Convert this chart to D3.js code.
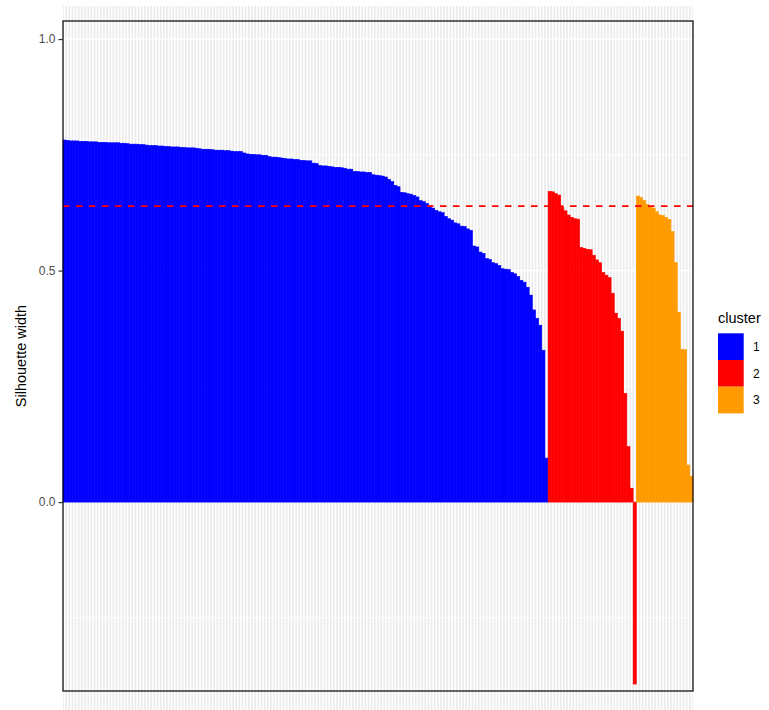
<!DOCTYPE html>
<html>
<head>
<meta charset="utf-8">
<script src="https://cdn.jsdelivr.net/npm/d3@7"></script>
<style>
  body { margin: 0; background: #fff; }
  svg { font-family: "Liberation Sans", Arial, sans-serif; }
</style>
</head>
<body>
<div id="chart"></div>
<script>
// Silhouette widths, sorted within each cluster
const cluster1 = [
  .782, .781, .780, .780, .780, .779, .779, .779, .778, .778,
  .778, .777, .777, .777, .776, .776, .776, .776, .775, .775,
  .774, .773, .773, .773, .772, .772, .771, .770, .770, .770,
  .769, .769, .768, .768, .767, .767, .767, .766, .766, .765,
  .765, .765, .764, .763, .762, .762, .762, .761, .760, .760,
  .760, .759, .759, .758, .757, .757, .757, .754, .752, .751,
  .751, .750, .750, .749, .749, .746, .745, .745, .744, .743,
  .742, .741, .741, .740, .740, .738, .738, .737, .737, .732,
  .731, .727, .726, .726, .725, .724, .723, .723, .722, .721,
  .719, .719, .714, .714, .713, .713, .712, .712, .707, .706,
  .705, .704, .702, .697, .692, .684, .681, .669, .668, .666,
  .665, .662, .659, .651, .649, .645, .640, .635, .630, .627,
  .625, .617, .612, .609, .603, .601, .596, .595, .590, .587,
  .553, .551, .540, .537, .526, .524, .517, .515, .511, .504,
  .503, .502, .496, .493, .487, .479, .475, .464, .447, .415,
  .397, .382, .328, .095
];
const cluster2 = [
  .671, .670, .666, .663, .637, .629, .620, .615, .612, .611,
  .550, .548, .546, .545, .533, .523, .517, .496, .490, .485,
  .451, .408, .397, .369, .235, .120, .030, -.393
];
const cluster3 = [
  .661, .658, .651, .643, .638, .635, .627, .620, .619, .615,
  .610, .584, .517, .410, .330, .329, .080, .056
];
const clusterNames = ["1", "2", "3"];
const clusterColors = ["#0000FF", "#FF0000", "#FF9B00"];
const avgWidth = 0.639;
const yTicks = [0, 0.5, 1.0];
const yTickLabels = ["0.0", "0.5", "1.0"];
const yMinorTicks = [-0.25, 0.25, 0.75];

// one row per observation
const data = [];
[cluster1, cluster2, cluster3].forEach((vals, c) => {
    vals.forEach(v => data.push({ id: data.length, cluster: clusterNames[c], width: v }));
});

const W = 769, H = 710;
const panel = { left: 63, right: 693, top: 21, bottom: 691 };

const svg = d3.select("#chart").append("svg")
    .attr("width", W)
    .attr("height", H);

const x = d3.scaleBand()
    .domain(data.map(d => d.id))
    .range([panel.left, panel.right])
    .padding(0);

const y = d3.scaleLinear()
    .domain([-0.408, 1.039])
    .range([panel.bottom, panel.top]);

const color = d3.scaleOrdinal().domain(clusterNames).range(clusterColors);

// panel background with grid
svg.append("rect")
    .attr("x", panel.left)
    .attr("y", 6)
    .attr("width", panel.right - panel.left)
    .attr("height", H - 6)
    .attr("fill", "#EBEBEB");

svg.append("g").selectAll("line")
    .data(data)
    .join("line")
    .attr("x1", d => x(d.id) + x.bandwidth() / 2)
    .attr("x2", d => x(d.id) + x.bandwidth() / 2)
    .attr("y1", 6)
    .attr("y2", H)
    .attr("stroke", "#fff")
    .attr("stroke-width", 1.5);

svg.append("g").selectAll("line")
    .data(yMinorTicks)
    .join("line")
    .attr("x1", panel.left).attr("x2", panel.right)
    .attr("y1", d => y(d)).attr("y2", d => y(d))
    .attr("stroke", "#fff")
    .attr("stroke-width", 0.8);

svg.append("g").selectAll("line")
    .data(yTicks)
    .join("line")
    .attr("x1", panel.left).attr("x2", panel.right)
    .attr("y1", d => y(d)).attr("y2", d => y(d))
    .attr("stroke", "#fff")
    .attr("stroke-width", 1.5);

// bars (thin stroke in the fill colour closes anti-aliasing seams)
svg.append("g").selectAll("rect")
    .data(data)
    .join("rect")
    .attr("x", d => x(d.id))
    .attr("width", x.bandwidth())
    .attr("y", d => y(Math.max(0, d.width)))
    .attr("height", d => Math.abs(y(d.width) - y(0)))
    .attr("fill", d => color(d.cluster))
    .attr("stroke", d => color(d.cluster))
    .attr("stroke-width", 0.6);

// average silhouette width
svg.append("line")
    .attr("x1", panel.left).attr("x2", panel.right)
    .attr("y1", y(avgWidth)).attr("y2", y(avgWidth))
    .attr("stroke", "#FF0000")
    .attr("stroke-width", 1.8)
    .attr("stroke-dasharray", "6.5,6.5");

// panel border
svg.append("rect")
    .attr("x", panel.left)
    .attr("y", panel.top)
    .attr("width", panel.right - panel.left)
    .attr("height", panel.bottom - panel.top)
    .attr("fill", "none")
    .attr("stroke", "#000")
    .attr("stroke-width", 1.2);

// y axis
const yAxis = svg.append("g")
    .attr("transform", `translate(${panel.left},0)`)
    .call(d3.axisLeft(y)
        .tickValues(yTicks)
        .tickFormat((d, i) => yTickLabels[i])
        .tickSize(4.5)
        .tickPadding(3));
yAxis.select(".domain").remove();
yAxis.selectAll(".tick line").attr("stroke", "#333").attr("stroke-width", 1.2);
yAxis.selectAll(".tick text")
    .attr("fill", "#4D4D4D")
    .style("font-size", "12px")
    .style("font-family", "Liberation Sans, Arial, sans-serif");

// y axis title
svg.append("text")
    .attr("transform", "rotate(-90)")
    .attr("x", -356)
    .attr("y", 26)
    .attr("text-anchor", "middle")
    .style("font-size", "14.5px")
    .text("Silhouette width");

// legend
svg.append("text")
    .attr("x", 718)
    .attr("y", 323)
    .style("font-size", "14.5px")
    .text("cluster");

const legend = svg.selectAll(".legend")
    .data(clusterNames)
    .join("g")
    .attr("class", "legend")
    .attr("transform", (d, i) => `translate(718, ${333.3 + i * 26.7})`);

legend.append("rect")
    .attr("width", 25.7)
    .attr("height", 26.7)
    .attr("fill", d => color(d));

legend.append("text")
    .attr("x", 35)
    .attr("y", 13.35)
    .attr("dy", "0.36em")
    .style("font-size", "12px")
    .text(d => d);
</script>
</body>
</html>
